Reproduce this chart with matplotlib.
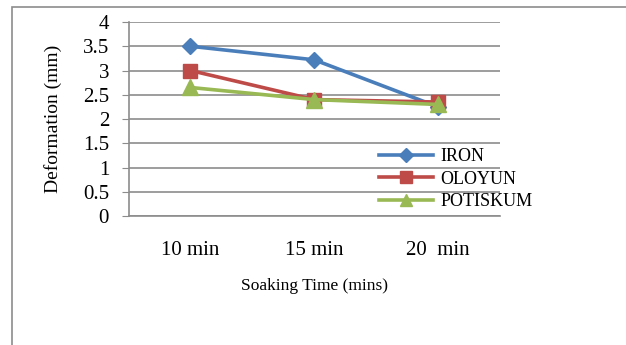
import matplotlib.pyplot as plt
from matplotlib.patches import Rectangle

plt.rcParams['font.family'] = ['Liberation Serif', 'DejaVu Serif']

tempos = ['10 min', '15 min', '20  min']
iron = [3.5, 3.22, 2.25]
oloyun = [3.0, 2.4, 2.35]
potiskum = [2.65, 2.4, 2.3]
y_ticks = [0, 0.5, 1, 1.5, 2, 2.5, 3, 3.5, 4]
y_labels = ['0', '0.5', '1', '1.5', '2', '2.5', '3', '3.5', '4']

fig = plt.figure(figsize=(6.26, 3.45), dpi=100)
# moldura externa, corta na direita e embaixo
fig.patches.append(Rectangle((12 / 626, -0.1), 1.0, 1.1 - 7 / 345,
                             transform=fig.transFigure, fill=False,
                             edgecolor='#8c8c8c', linewidth=1.2))

ax = fig.add_axes([128.5 / 626, 1 - 216 / 345, (500 - 128.5) / 626, (216 - 22) / 345])
x = range(len(tempos))
ax.plot(x, iron, color='#4A7EBB', lw=2.6, marker='D', ms=8, label='IRON', zorder=3)
ax.plot(x, oloyun, color='#BE4B48', lw=2.6, marker='s', ms=10, label='OLOYUN', zorder=4)
ax.plot(x, potiskum, color='#98B954', lw=2.6, marker='^', ms=11, label='POTISKUM', zorder=5)

ax.set_xlim(-0.5, 2.5)
ax.set_ylim(0, 4)
ax.set_yticks(y_ticks)
ax.set_yticklabels(y_labels, fontsize=15)
ax.set_xticks(list(x))
ax.set_xticklabels(tempos, fontsize=15)
ax.yaxis.grid(True, color='#8c8c8c', lw=1.2)
ax.set_axisbelow(True)
for s in ['top', 'right']:
    ax.spines[s].set_visible(False)
for s in ['left', 'bottom']:
    ax.spines[s].set_color('#8c8c8c')
    ax.spines[s].set_linewidth(1.2)
ax.tick_params(axis='y', length=5, color='#8c8c8c', pad=9)
ax.tick_params(axis='x', length=0, pad=18)
ax.set_ylabel('Deformation (mm)', fontsize=14)
ax.yaxis.set_label_coords(-0.18, 0.5)
ax.set_xlabel('Soaking Time (mins)', fontsize=12.5, labelpad=13)

ax.legend(loc='upper left', bbox_to_anchor=(0.65, 0.395), frameon=False, fontsize=13,
          handlelength=3.0, handletextpad=0.4, labelspacing=0.3, borderpad=0,
          markerscale=0.85)

fig.savefig('out.png', dpi=100)
